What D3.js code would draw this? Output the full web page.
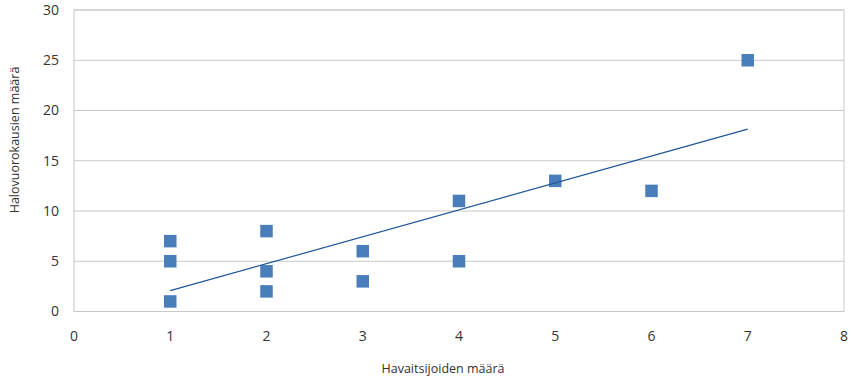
<!DOCTYPE html>
<html>
<head>
<meta charset="utf-8">
<script src="https://cdn.jsdelivr.net/npm/d3@7"></script>
<style>
  html, body { margin: 0; padding: 0; background: #fff; }
  svg { display: block; font-family: "Open Sans", "Noto Sans", sans-serif; }
</style>
</head>
<body>
<svg id="chart" width="852" height="381"></svg>
<script>
// Observers per night vs. number of halo days
const observers = [1, 1, 1, 2, 2, 2, 3, 3, 4, 4, 5, 6, 7];
const haloDays  = [1, 5, 7, 8, 4, 2, 6, 3, 11, 5, 13, 12, 25];
const xTicks = [0, 1, 2, 3, 4, 5, 6, 7, 8];
const yTicks = [0, 5, 10, 15, 20, 25, 30];
const xTitle = "Havaitsijoiden määrä";
const yTitle = "Halovuorokausien määrä";

const svg = d3.select("#chart");
const m = { left: 74, top: 10, right: 844, bottom: 311.5 };

const x = d3.scaleLinear().domain([0, 8]).range([m.left, m.right]);
const y = d3.scaleLinear().domain([0, 30]).range([m.bottom, m.top]);

// horizontal gridlines
svg.append("g").selectAll("line").data(yTicks).join("line")
  .attr("x1", m.left).attr("x2", m.right)
  .attr("y1", d => y(d)).attr("y2", d => y(d))
  .attr("stroke", "#c8c8c8").attr("stroke-width", 1);

// plot border
svg.append("rect")
  .attr("x", m.left).attr("y", m.top)
  .attr("width", m.right - m.left).attr("height", m.bottom - m.top)
  .attr("fill", "none").attr("stroke", "#c8c8c8").attr("stroke-width", 1);

// tick labels
svg.append("g").selectAll("text").data(yTicks).join("text")
  .attr("x", 59).attr("y", d => y(d)).attr("dy", "0.35em")
  .attr("text-anchor", "end").attr("font-size", 14).attr("fill", "#333")
  .text(d => d);

svg.append("g").selectAll("text").data(xTicks).join("text")
  .attr("x", d => x(d)).attr("y", 336).attr("dy", "0.35em")
  .attr("text-anchor", "middle").attr("font-size", 14).attr("fill", "#333")
  .text(d => d);

// axis titles
svg.append("text")
  .attr("x", 443).attr("y", 369).attr("dy", "0.35em")
  .attr("text-anchor", "middle").attr("font-size", 12.5).attr("fill", "#333")
  .text(xTitle);

svg.append("text")
  .attr("transform", "translate(15,140) rotate(-90)")
  .attr("dy", "0.35em")
  .attr("text-anchor", "middle").attr("font-size", 12.5).attr("fill", "#333")
  .text(yTitle);

// least-squares trend line
const n = observers.length;
const sx = d3.sum(observers), sy = d3.sum(haloDays);
const sxy = d3.sum(observers, (v, i) => v * haloDays[i]);
const sxx = d3.sum(observers, v => v * v);
const slope = (n * sxy - sx * sy) / (n * sxx - sx * sx);
const intercept = (sy - slope * sx) / n;
const [x0, x1] = d3.extent(observers);

// markers
const s = 12.5;
svg.append("g").selectAll("rect").data(observers.map((v, i) => [v, haloDays[i]])).join("rect")
  .attr("x", d => x(d[0]) - s / 2).attr("y", d => y(d[1]) - s / 2)
  .attr("width", s).attr("height", s)
  .attr("fill", "#4a7ebb");

svg.append("line")
  .attr("x1", x(x0)).attr("y1", y(intercept + slope * x0))
  .attr("x2", x(x1)).attr("y2", y(intercept + slope * x1))
  .attr("stroke", "#1f5496").attr("stroke-width", 1.2);
</script>
</body>
</html>
